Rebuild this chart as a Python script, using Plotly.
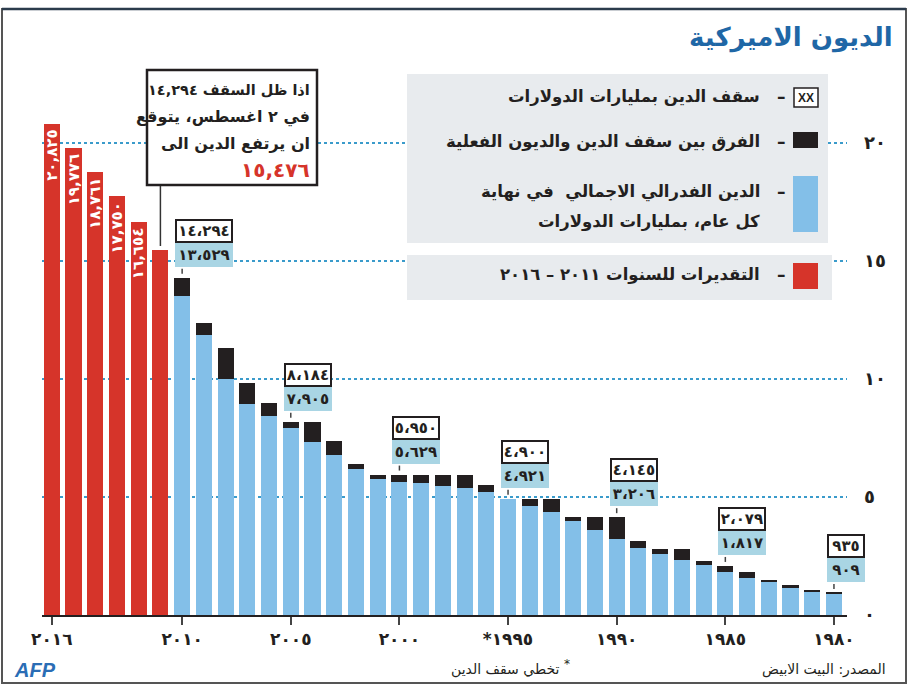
import plotly.graph_objects as go

# ---------------- data (billions of dollars) ----------------
years_actual = list(range(1980, 2011))
debt = [909, 1000, 1140, 1380, 1570, 1817, 2130, 2350, 2600, 2860,
        3206, 3600, 4000, 4350, 4640, 4921, 5220, 5370, 5480, 5600,
        5629, 5770, 6200, 6760, 7350, 7905, 8450, 8950, 10000, 11880, 13529]
ceiling = [935, 1080, 1290, 1490, 1824, 2079, 2300, 2800, 2800, 3122,
           4145, 4145, 4145, 4900, 4900, 4900, 5500, 5950, 5950, 5950,
           5950, 5950, 6400, 7384, 8184, 8184, 8965, 9815, 11315, 12394, 14294]
years_est = [2011, 2012, 2013, 2014, 2015, 2016]
estimates = [15476, 16654, 17750, 18761, 19776, 20825]
label_years = [2010, 2005, 2000, 1995, 1990, 1985, 1980]
tick_years = [2016, 2010, 2005, 2000, 1995, 1990, 1985, 1980]
tick_text = ["٢٠١٦", "٢٠١٠", "٢٠٠٥", "٢٠٠٠", "*١٩٩٥", "١٩٩٠", "١٩٨٥", "١٩٨٠"]
y_ticks = [0, 5, 10, 15, 20]
y_tick_text = ["٠", "٥", "١٠", "١٥", "٢٠"]

FONT = "DejaVu Sans"
BLUE = "#83bfe8"
BLACK = "#231f20"
RED = "#d6342a"
LBLUE = "#a9d5e4"

AR = str.maketrans("0123456789", "٠١٢٣٤٥٦٧٨٩")


def ar_num(n, sep="،"):
    return f"{n:,}".replace(",", sep).translate(AR)


# plot area in pixels
L, R_, T, B = 42, 61, 100, 72
W, H = 908, 687
PW, PH = W - L - R_, H - T - B
Y0 = H - B


def px(p):
    return (p - L) / PW


def py(p):
    return (Y0 - p) / PH


gap = [max(c - d, 0) / 1000 for c, d in zip(ceiling, debt)]

fig = go.Figure()
fig.add_bar(x=years_actual, y=[d / 1000 for d in debt], marker_color=BLUE,
            marker_line_width=0, width=0.74)
fig.add_bar(x=years_actual, y=gap, marker_color=BLACK, marker_line_width=0, width=0.74)
fig.add_bar(x=years_est, y=[e / 1000 for e in estimates], marker_color=RED,
            marker_line_width=0, width=0.74)

shapes = []
ann = []

# red bar labels (not on 2011)
for yr, v in zip(years_est, estimates):
    if yr == 2011:
        continue
    ann.append(dict(x=yr, y=v / 1000, xref="x", yref="y", text="<b>" + ar_num(v, ",") + "</b>",
                    textangle=-90, showarrow=False, yanchor="top", xanchor="center",
                    yshift=-4, font=dict(family=FONT, size=15, color="white")))

# value boxes
for yr in label_years:
    i = years_actual.index(yr)
    c, d = ceiling[i], debt[i]
    top = max(c, d) / 1000
    n = len(str(c))
    wbox = {3: 34, 4: 44, 5: 54}[n]
    ann.append(dict(x=yr, y=top, xref="x", yref="y", text="<b>" + ar_num(d) + "</b>",
                    showarrow=False, xanchor="left", yanchor="bottom", xshift=-7, yshift=11,
                    bgcolor=LBLUE, width=wbox + 4, height=24, borderpad=0, borderwidth=0,
                    font=dict(family=FONT, size=15, color=BLACK)))
    ann.append(dict(x=yr, y=top, xref="x", yref="y", text="<b>" + ar_num(c) + "</b>",
                    showarrow=False, xanchor="left", yanchor="bottom", xshift=-7, yshift=35,
                    bgcolor="white", bordercolor=BLACK, borderwidth=2, width=wbox, height=20,
                    borderpad=0, font=dict(family=FONT, size=15, color=BLACK)))
    shapes.append(dict(type="line", xref="x", yref="y", x0=yr, x1=yr, ysizemode="pixel",
                       yanchor=top, y0=4, y1=9, line=dict(color="#444", width=1.5)))

# legend boxes
shapes.append(dict(type="rect", xref="paper", yref="paper", x0=px(407), x1=px(828),
                   y0=py(243), y1=py(74), fillcolor="#e8ebee", line_width=0, layer="above"))
shapes.append(dict(type="rect", xref="paper", yref="paper", x0=px(407), x1=px(832),
                   y0=py(300), y1=py(255), fillcolor="#e8ebee", line_width=0, layer="above"))
# swatches
shapes.append(dict(type="rect", xref="paper", yref="paper", x0=px(794), x1=px(818),
                   y0=py(107), y1=py(88), fillcolor="white", line=dict(color=BLACK, width=1.5),
                   layer="above"))
shapes.append(dict(type="rect", xref="paper", yref="paper", x0=px(793), x1=px(818),
                   y0=py(148), y1=py(132), fillcolor=BLACK, line_width=0, layer="above"))
shapes.append(dict(type="rect", xref="paper", yref="paper", x0=px(793), x1=px(818),
                   y0=py(232), y1=py(176), fillcolor=BLUE, line_width=0, layer="above"))
shapes.append(dict(type="rect", xref="paper", yref="paper", x0=px(793), x1=px(818),
                   y0=py(289), y1=py(263), fillcolor=RED, line_width=0, layer="above"))
ann.append(dict(x=px(806), y=py(97.5), xref="paper", yref="paper", text="<b>XX</b>",
                showarrow=False, xanchor="center", yanchor="middle",
                font=dict(family="Liberation Sans Narrow, Liberation Sans", size=12, color=BLACK)))

leg_items = [
    (97, "سقف الدين بمليارات الدولارات"),
    (142, "الفرق بين سقف الدين والديون الفعلية"),
    (192, "الدين الفدرالي الاجمالي  في نهاية"),
    (222, "كل عام، بمليارات الدولارات"),
    (275, "التقديرات للسنوات ٢٠١١ – ٢٠١٦"),
]
for yy, t in leg_items:
    ann.append(dict(x=px(762), y=py(yy), xref="paper", yref="paper", text="<b>" + t + "</b>",
                    showarrow=False, xanchor="right", yanchor="middle", align="right",
                    font=dict(family=FONT, size=16.5, color=BLACK)))
for dy in [97, 142, 192, 275]:
    ann.append(dict(x=px(781), y=py(dy), xref="paper", yref="paper", text="<b>–</b>",
                    showarrow=False, xanchor="center", yanchor="middle",
                    font=dict(family=FONT, size=17, color=BLACK)))

# callout
shapes.append(dict(type="rect", xref="paper", yref="paper", x0=px(147), x1=px(317),
                   y0=py(185), y1=py(70), fillcolor="white", line=dict(color=BLACK, width=2.5),
                   layer="above"))
shapes.append(dict(type="line", xref="x", yref="paper", x0=2011, x1=2011,
                   y0=py(246), y1=py(186), line=dict(color="#333", width=1.5), layer="above"))
call_lines = [(90, "اذا ظل السقف " + ar_num(ceiling[-1], ","), 14.5), (117, "في ٢ اغسطس، يتوقع", 16),
              (143, "ان يرتفع الدين الى", 16)]
for yy, t, fs in call_lines:
    ann.append(dict(x=px(312), y=py(yy), xref="paper", yref="paper", text="<b>" + t + "</b>",
                    showarrow=False, xanchor="right", yanchor="middle",
                    font=dict(family=FONT, size=fs, color=BLACK)))
ann.append(dict(x=px(312), y=py(170), xref="paper", yref="paper",
                text="<b>" + ar_num(estimates[0], ",") + "</b>",
                showarrow=False, xanchor="right", yanchor="middle",
                font=dict(family=FONT, size=20, color="#d6342a")))

# title
ann.append(dict(x=px(895), y=py(37), xref="paper", yref="paper", text="<b>الديون الاميركية</b>",
                showarrow=False, xanchor="right", yanchor="middle",
                font=dict(family=FONT, size=26, color="#1f67a6")))

# footer
ann.append(dict(x=px(888), y=py(669), xref="paper", yref="paper", text="المصدر: البيت الابيض",
                showarrow=False, xanchor="right", yanchor="middle",
                font=dict(family=FONT, size=14, color=BLACK)))
ann.append(dict(x=px(561), y=py(669), xref="paper", yref="paper", text="تخطي سقف الدين",
                showarrow=False, xanchor="right", yanchor="middle",
                font=dict(family=FONT, size=14, color=BLACK)))
ann.append(dict(x=px(562), y=py(664), xref="paper", yref="paper", text="*",
                showarrow=False, xanchor="left", yanchor="middle",
                font=dict(family=FONT, size=12, color=BLACK)))
ann.append(dict(x=px(12), y=py(670), xref="paper", yref="paper", text="<b><i>AFP</i></b>",
                showarrow=False, xanchor="left", yanchor="middle",
                font=dict(family="Liberation Sans", size=20, color="#2a6db5")))

# frame
shapes.append(dict(type="rect", xref="paper", yref="paper", x0=px(2), x1=px(906),
                   y0=py(683), y1=py(9), line=dict(color="#555", width=2), layer="above"))
shapes.append(dict(type="line", xref="paper", yref="paper", x0=px(2), x1=px(906),
                   y0=py(9), y1=py(9), line=dict(color="#2b3b4c", width=2.5), layer="above"))

fig.update_layout(
    width=W, height=H, margin=dict(l=L, r=R_, t=T, b=B, autoexpand=False),
    paper_bgcolor="white", plot_bgcolor="white",
    barmode="stack", showlegend=False,
    shapes=shapes, annotations=ann,
    xaxis=dict(range=[2016.45, 1979.4], tickvals=tick_years,
               ticktext=["<b>" + t + "</b>" for t in tick_text],
               showgrid=False, zeroline=False, showline=True, linecolor=BLACK, linewidth=2,
               ticks="outside", ticklen=8, tickcolor="#444", tickwidth=1.5,
               tickfont=dict(family=FONT, size=17, color=BLACK)),
    yaxis=dict(range=[0, PH / 23.6], tickvals=y_ticks,
               ticktext=["<b>" + t + "</b>" for t in y_tick_text], side="right",
               showgrid=True, gridcolor="#3a9bcb", griddash="dot", gridwidth=1.5,
               zeroline=False, showline=False, ticks="", ticklabelstandoff=16,
               tickfont=dict(family=FONT, size=18, color=BLACK)),
)

fig.write_html("out.html", config={"displayModeBar": False},
               post_script="document.body.style.margin='0px';")
